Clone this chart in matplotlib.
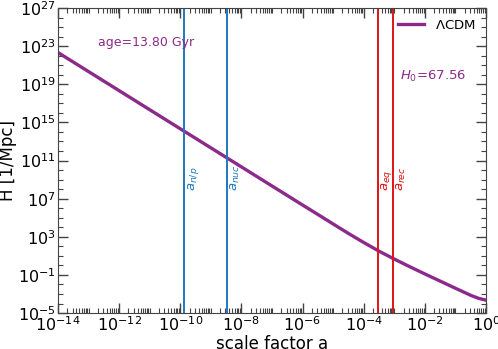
import numpy as np
import matplotlib
matplotlib.use("Agg")
import matplotlib.pyplot as plt
import matplotlib.ticker as mticker

# H(a) for LCDM (log10 a, log10 H [1/Mpc])
log_a = [-14, -12, -10, -8, -7, -6, -5.5, -5, -4.5, -4, -3.5, -3,
         -2.5, -2, -1.5, -1, -0.5, -0.25, 0]
log_H = [22.33, 18.33, 14.33, 10.33, 8.33, 6.33, 5.34, 4.34, 3.35, 2.40,
         1.49, 0.66, -0.13, -0.90, -1.65, -2.40, -3.14, -3.45, -3.65]

# characteristic epochs (scale factor)
blue_epochs = {r"$a_{n/p}$": 1.33e-10, r"$a_{nuc}$": 3.45e-9}
red_epochs = {r"$a_{eq}$": 2.9e-4, r"$a_{rec}$": 9.2e-4}

age_text = "age=13.80 Gyr"
h0_text = r"$H_0$=67.56"

purple = '#8b2a8b'
blue = '#1f78c1'
red = '#e01414'


def main():
    fig = plt.figure(figsize=(4.98, 3.49), dpi=100)
    ax = fig.add_axes([0.1165, 0.103, 0.8595, 0.874])

    a = 10.0**np.array(log_a)
    H = 10.0**np.array(log_H)
    ax.plot(a, H, '-', color=purple, lw=2.4, label=r"$\Lambda$CDM")

    for lab, x in blue_epochs.items():
        ax.axvline(x, color=blue, lw=1.4)
        ax.text(x*1.12, 6e7, lab, color=blue, rotation=90,
                ha='left', va='bottom', fontsize=9.5)
    for lab, x in red_epochs.items():
        ax.axvline(x, color=red, lw=1.4)
        ax.text(x*1.12, 6e7, lab, color=red, rotation=90,
                ha='left', va='bottom', fontsize=9.5)

    ax.set_xscale('log')
    ax.set_yscale('log')
    ax.set_xlim(1e-14, 1)
    ax.set_ylim(1e-5, 1e27)

    ax.set_xticks([10.0**k for k in range(-14, 1, 2)])
    ax.set_yticks([10.0**k for k in range(-5, 28, 4)])
    ax.xaxis.set_minor_locator(mticker.LogLocator(base=10, subs=np.arange(1, 10), numticks=200))
    ax.yaxis.set_minor_locator(mticker.LogLocator(base=10, subs=[1.0], numticks=200))
    ax.xaxis.set_minor_formatter(mticker.NullFormatter())
    ax.yaxis.set_minor_formatter(mticker.NullFormatter())

    for sp in ax.spines.values():
        sp.set_color('#444444')
    ax.tick_params(which='both', direction='in', top=True, right=True, labelsize=11.5,
                   color='#444444')
    ax.tick_params(which='major', length=7, width=1, pad=1.5)
    ax.tick_params(which='minor', length=3.5, width=0.8)

    ax.set_xlabel("scale factor a", fontsize=12, labelpad=1)
    ax.set_ylabel("H [1/Mpc]", fontsize=12, labelpad=1)

    ax.text(0.093, 0.875, age_text, transform=ax.transAxes, color=purple, fontsize=9)
    ax.text(0.80, 0.765, h0_text, transform=ax.transAxes, color=purple, fontsize=9.5)

    ax.legend(loc='upper right', frameon=False, fontsize=9.5, handlelength=2.0,
              borderaxespad=0.4)

    fig.savefig("out.png", dpi=100)


main()
